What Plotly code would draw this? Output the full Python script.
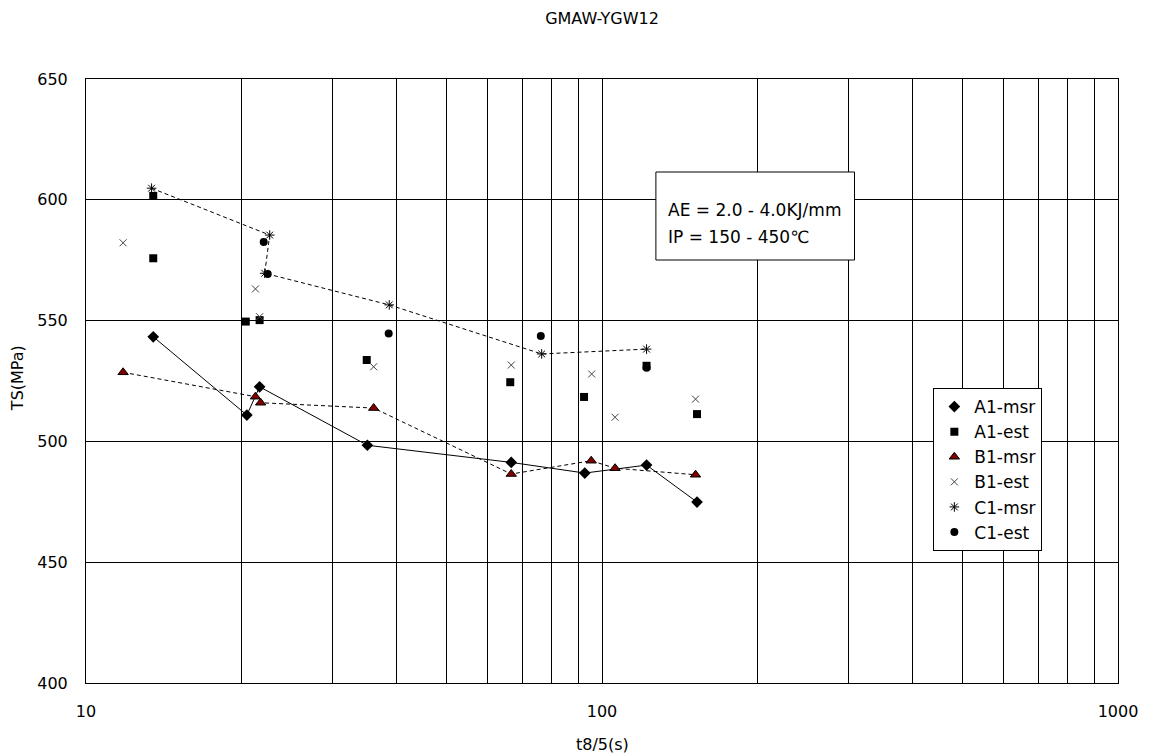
import plotly.graph_objects as go

# ---- data ----
A1_msr_x = [13.5, 20.5, 21.7, 35.1, 66.7, 92.6, 122, 152.8]
A1_msr_y = [543.3, 510.9, 522.6, 498.4, 491.3, 486.9, 490.2, 474.9]

A1_est_x = [13.5, 13.5, 20.4, 21.7, 35.0, 66.4, 92.3, 122, 152.8]
A1_est_y = [601.6, 575.8, 549.6, 550.2, 533.7, 524.5, 518.4, 531.3, 511.3]

B1_msr_x = [11.8, 21.3, 21.8, 36.1, 66.7, 95.3, 106, 151.8]
B1_msr_y = [528.6, 518.5, 516.0, 513.8, 486.5, 492.0, 488.9, 486.2]

B1_est_x = [11.8, 21.3, 21.7, 36.1, 66.7, 95.5, 106, 151.8]
B1_est_y = [582.2, 563.1, 551.6, 530.9, 531.6, 527.9, 510.0, 517.5]

C1_msr_x = [13.4, 22.7, 22.2, 38.7, 76.4, 122]
C1_msr_y = [604.8, 585.4, 569.6, 556.5, 536.2, 538.2]

C1_est_x = [22.1, 22.5, 38.6, 76.1, 122]
C1_est_y = [582.5, 569.3, 544.7, 543.6, 530.5]

x_tickvals = [10, 20, 30, 40, 50, 60, 70, 80, 90,
              100, 200, 300, 400, 500, 600, 700, 800, 900, 1000]
x_ticktext = ["10", "", "", "", "", "", "", "", "",
              "100", "", "", "", "", "", "", "", "", "1000"]
y_tickvals = [400, 450, 500, 550, 600, 650]

title_text = "GMAW-YGW12"
x_title = "t8/5(s)"
y_title = "TS(MPa)"
note_lines = ["AE = 2.0 - 4.0KJ/mm", "IP = 150 - 450\u2103"]

FONT = "DejaVu Sans"
DARKRED = "#800000"

fig = go.Figure()

# connecting lines (no legend entries)
fig.add_trace(go.Scatter(x=A1_msr_x, y=A1_msr_y, mode="lines",
                         line=dict(color="black", width=1),
                         showlegend=False, hoverinfo="skip"))
fig.add_trace(go.Scatter(x=B1_msr_x, y=B1_msr_y, mode="lines",
                         line=dict(color="black", width=1, dash="4px,3px"),
                         showlegend=False, hoverinfo="skip"))
fig.add_trace(go.Scatter(x=C1_msr_x, y=C1_msr_y, mode="lines",
                         line=dict(color="black", width=1, dash="4px,3px"),
                         showlegend=False, hoverinfo="skip"))

# markers
fig.add_trace(go.Scatter(x=A1_msr_x, y=A1_msr_y, mode="markers", name="A1-msr",
                         marker=dict(symbol="diamond", size=9, color="black")))
fig.add_trace(go.Scatter(x=A1_est_x, y=A1_est_y, mode="markers", name="A1-est",
                         marker=dict(symbol="square", size=8, color="black")))
fig.add_trace(go.Scatter(x=B1_msr_x, y=B1_msr_y, mode="markers", name="B1-msr",
                         marker=dict(symbol="triangle-up", size=9, color=DARKRED,
                                     line=dict(color="black", width=1))))
fig.add_trace(go.Scatter(x=B1_est_x, y=B1_est_y, mode="markers", name="B1-est",
                         marker=dict(symbol="x-thin-open", size=7, color="#444444",
                                     line=dict(color="#444444", width=1))))
fig.add_trace(go.Scatter(x=C1_msr_x, y=C1_msr_y, mode="markers", name="C1-msr",
                         marker=dict(symbol="asterisk-open", size=8, color="black",
                                     line=dict(color="black", width=1))))
fig.add_trace(go.Scatter(x=C1_est_x, y=C1_est_y, mode="markers", name="C1-est",
                         marker=dict(symbol="circle", size=8, color="black")))

L, R, T, B = 86, 30, 79, 73
W, H = 1150, 756
pw, ph = W - L - R, H - T - B


def px_x(p):
    return (p - L) / pw


def px_y(p):
    return (H - B - p) / ph


fig.update_layout(
    width=W, height=H, autosize=False,
    margin=dict(l=L, r=R, t=T, b=B),
    paper_bgcolor="white", plot_bgcolor="white",
    font=dict(family=FONT, size=16, color="black"),
    title=dict(text=title_text, x=0.5, xref="paper", xanchor="center",
               y=1 - 18.5 / H, yanchor="middle",
               font=dict(family=FONT, size=16, color="black")),
    legend=dict(x=px_x(935), y=px_y(388), xanchor="left", yanchor="top",
                bordercolor="black", borderwidth=1, bgcolor="white",
                font=dict(family=FONT, size=17, color="black"),
                itemwidth=30, tracegroupgap=0),
    showlegend=True,
)

fig.update_xaxes(type="log", range=[1, 3],
                 tickvals=x_tickvals, ticktext=x_ticktext,
                 showgrid=True, gridcolor="black", gridwidth=1,
                 showline=True, linecolor="black", linewidth=1, mirror=True,
                 ticks="", ticklabelstandoff=14, zeroline=False,
                 tickfont=dict(family=FONT, size=16, color="black"))
fig.update_yaxes(range=[400, 650], tickvals=y_tickvals,
                 showgrid=True, gridcolor="black", gridwidth=1,
                 showline=True, linecolor="black", linewidth=1, mirror=True,
                 ticks="", ticklabelstandoff=14, zeroline=False,
                 tickfont=dict(family=FONT, size=16, color="black"))

# axis titles
fig.add_annotation(text=x_title, xref="paper", yref="paper",
                   x=0.5, y=px_y(744), xanchor="center", yanchor="middle",
                   showarrow=False, font=dict(family=FONT, size=16, color="black"))
fig.add_annotation(text=y_title, xref="paper", yref="paper",
                   x=px_x(17), y=px_y(378), xanchor="center", yanchor="middle",
                   textangle=-90, showarrow=False,
                   font=dict(family=FONT, size=16, color="black"))

# text box
fig.add_shape(type="rect", xref="paper", yref="paper",
              x0=px_x(657), x1=px_x(856), y0=px_y(260), y1=px_y(172),
              line=dict(color="black", width=1), fillcolor="white", layer="above")
for line_text, yc in zip(note_lines, [210, 237]):
    fig.add_annotation(text=line_text, xref="paper", yref="paper",
                       x=px_x(667), y=px_y(yc), xanchor="left", yanchor="middle",
                       showarrow=False, font=dict(family=FONT, size=17, color="black"))

fig.write_html("out.html",
               config={"displayModeBar": False},
               post_script="document.body.style.margin='0px';"
                           "document.body.style.overflow='hidden';")
